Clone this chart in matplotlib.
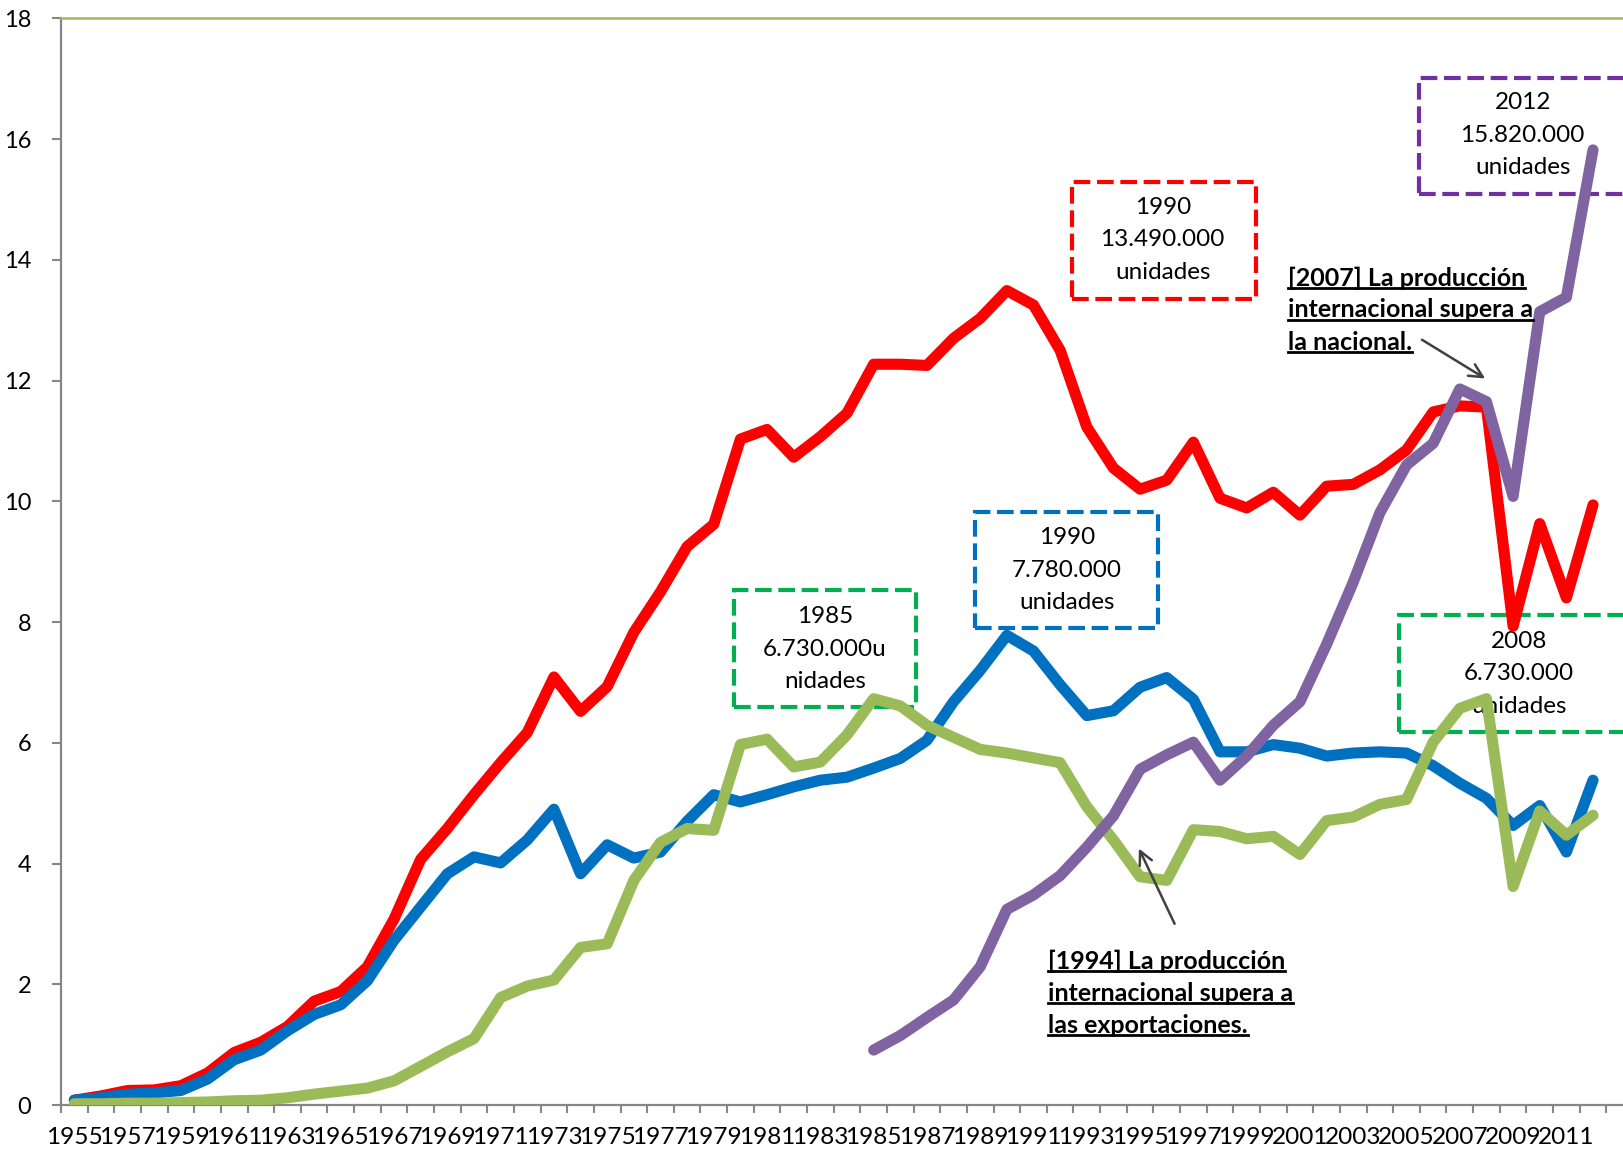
import numpy as np
import matplotlib.pyplot as plt
from matplotlib.patches import Rectangle
from matplotlib.lines import Line2D

plt.rcParams['font.family'] = ['Lato', 'DejaVu Sans']

# Data (millones de unidades)
years = list(range(1955, 2013))

produccion = [0.08, 0.15, 0.24, 0.25, 0.32, 0.53, 0.87, 1.04, 1.30, 1.72,
              1.88, 2.29, 3.08, 4.07, 4.58, 5.14, 5.67, 6.17, 7.09, 6.52,
              6.93, 7.83, 8.50, 9.25, 9.62, 11.03, 11.19, 10.73, 11.07, 11.46,
              12.27, 12.27, 12.25, 12.70, 13.03, 13.49, 13.25, 12.50, 11.23, 10.55,
              10.20, 10.35, 10.98, 10.05, 9.89, 10.15, 9.77, 10.25, 10.28, 10.52,
              10.85, 11.48, 11.58, 11.56, 7.93, 9.63, 8.40, 9.94]

ventas = [0.08, 0.12, 0.18, 0.20, 0.24, 0.43, 0.75, 0.91, 1.23, 1.50,
          1.66, 2.06, 2.73, 3.28, 3.83, 4.11, 4.01, 4.39, 4.90, 3.83,
          4.31, 4.09, 4.19, 4.70, 5.14, 5.02, 5.14, 5.27, 5.38, 5.43,
          5.58, 5.74, 6.04, 6.68, 7.20, 7.78, 7.52, 6.96, 6.45, 6.53,
          6.92, 7.08, 6.72, 5.85, 5.85, 5.97, 5.91, 5.78, 5.83, 5.85,
          5.83, 5.62, 5.33, 5.08, 4.63, 4.96, 4.19, 5.38]

exportaciones = [0.02, 0.02, 0.03, 0.03, 0.04, 0.05, 0.07, 0.08, 0.12, 0.18,
                 0.23, 0.28, 0.40, 0.64, 0.88, 1.10, 1.78, 1.97, 2.07, 2.61,
                 2.67, 3.72, 4.35, 4.58, 4.55, 5.97, 6.06, 5.60, 5.68, 6.13,
                 6.73, 6.61, 6.29, 6.09, 5.89, 5.83, 5.75, 5.67, 4.94, 4.39,
                 3.78, 3.72, 4.56, 4.53, 4.41, 4.45, 4.15, 4.71, 4.77, 4.98,
                 5.06, 6.01, 6.57, 6.73, 3.62, 4.87, 4.47, 4.80]

# produccion internacional, desde 1985
years_int = list(range(1985, 2013))
prod_internacional = [0.91, 1.15, 1.45, 1.74, 2.29, 3.24, 3.48, 3.80, 4.27, 4.79,
                      5.56, 5.80, 6.01, 5.38, 5.78, 6.29, 6.68, 7.63, 8.66, 9.81,
                      10.60, 10.96, 11.86, 11.65, 10.08, 13.14, 13.38, 15.82]

x = np.arange(len(years))
x_int = np.array([years.index(y) for y in years_int])

fig = plt.figure(figsize=(16.23, 11.49), dpi=100)
ax = fig.add_axes([61 / 1623, 44 / 1149, 1572 / 1623, 1086.7 / 1149])

lw = 8
kw = dict(lw=lw, solid_capstyle='round', solid_joinstyle='round', zorder=5)
ax.plot(x, produccion, color='#FF0000', **kw)
ax.plot(x, ventas, color='#0070C0', **kw)
ax.plot(x, exportaciones, color='#9BBB59', **kw)
ax.plot(x_int, prod_internacional, color='#8064A2', **kw)

ax.set_xlim(-0.5, 58.5)
ax.set_ylim(0, 18)

# axes style
for s in ['left', 'bottom']:
    ax.spines[s].set_color('#868686')
    ax.spines[s].set_linewidth(1.6)
ax.spines['top'].set_color('#9BBB59')
ax.spines['top'].set_linewidth(1.8)
ax.spines['right'].set_visible(False)

ax.set_yticks(range(0, 19, 2))
ax.tick_params(axis='y', length=6.5, width=1.5, color='#868686', pad=15,
               labelsize=17)
lab_idx = list(range(0, len(years), 2))
ax.set_xticks(lab_idx)
ax.set_xticklabels([str(years[i]) for i in lab_idx])
ax.tick_params(axis='x', which='major', length=0, pad=16, labelsize=17.6)
ax.set_xticks(np.arange(-0.5, len(years), 1), minor=True)
ax.tick_params(axis='x', which='minor', length=6, width=1.5, color='#868686')


# dashed boxes with labels
def caja(x0, x1, y0, y1, color, texto, tx, ty):
    r = Rectangle((x0, y0), x1 - x0, y1 - y0, fill=False, ec=color, lw=3,
                  ls=(0, (4, 1.6)), zorder=2, clip_on=False)
    ax.add_patch(r)
    ax.text(tx, ty, texto, ha='center', va='center', fontsize=17.5,
            linespacing=1.68, zorder=2)


caja(37.43, 44.34, 13.35, 15.29, '#FF0000', '1990\n13.490.000\nunidades', 40.85, 14.33)
caja(50.46, 59.5, 15.09, 17.01, '#7030A0', '2012\n15.820.000\nunidades', 54.36, 16.06)
caja(33.80, 40.66, 7.90, 9.82, '#0070C0', '1990\n7.780.000\nunidades', 37.25, 8.86)
caja(24.75, 31.58, 6.59, 8.53, '#00B050', '1985\n6.730.000u\nnidades', 28.17, 7.55)
caja(49.71, 59.5, 6.18, 8.12, '#00B050', '2008\n6.730.000\nunidades', 54.23, 7.14)

# underlined notes
notas = []


def nota(x0, y0, lines):
    for k, s in enumerate(lines):
        t = ax.annotate(s, (x0, y0), xytext=(0, -k * 23.1), textcoords='offset points',
                        ha='left', va='center', fontsize=18, fontweight='bold',
                        zorder=6)
        notas.append(t)


nota(36.54, 2.38, ['[1994] La producción', 'internacional supera a',
                   'las exportaciones.'])
nota(45.54, 13.70, ['[2007] La producción', 'internacional supera a',
                    'la nacional.'])

arrow = dict(arrowstyle='->', color='#404040', lw=1.8, mutation_scale=24)
ax.annotate('', xy=(39.91, 4.29), xytext=(41.34, 2.96), arrowprops=arrow, zorder=6)
ax.annotate('', xy=(53.04, 12.01), xytext=(50.49, 12.70), arrowprops=arrow, zorder=6)

fig.canvas.draw()
inv = fig.transFigure.inverted()
for t in notas:
    bb = t.get_window_extent()
    (fx0, fy), (fx1, _) = inv.transform([(bb.x0, bb.y0 + 1.5), (bb.x1, bb.y0 + 1.5)])
    fig.add_artist(Line2D([fx0, fx1], [fy, fy], color='black', lw=2))

fig.savefig('out.png', dpi=100)
